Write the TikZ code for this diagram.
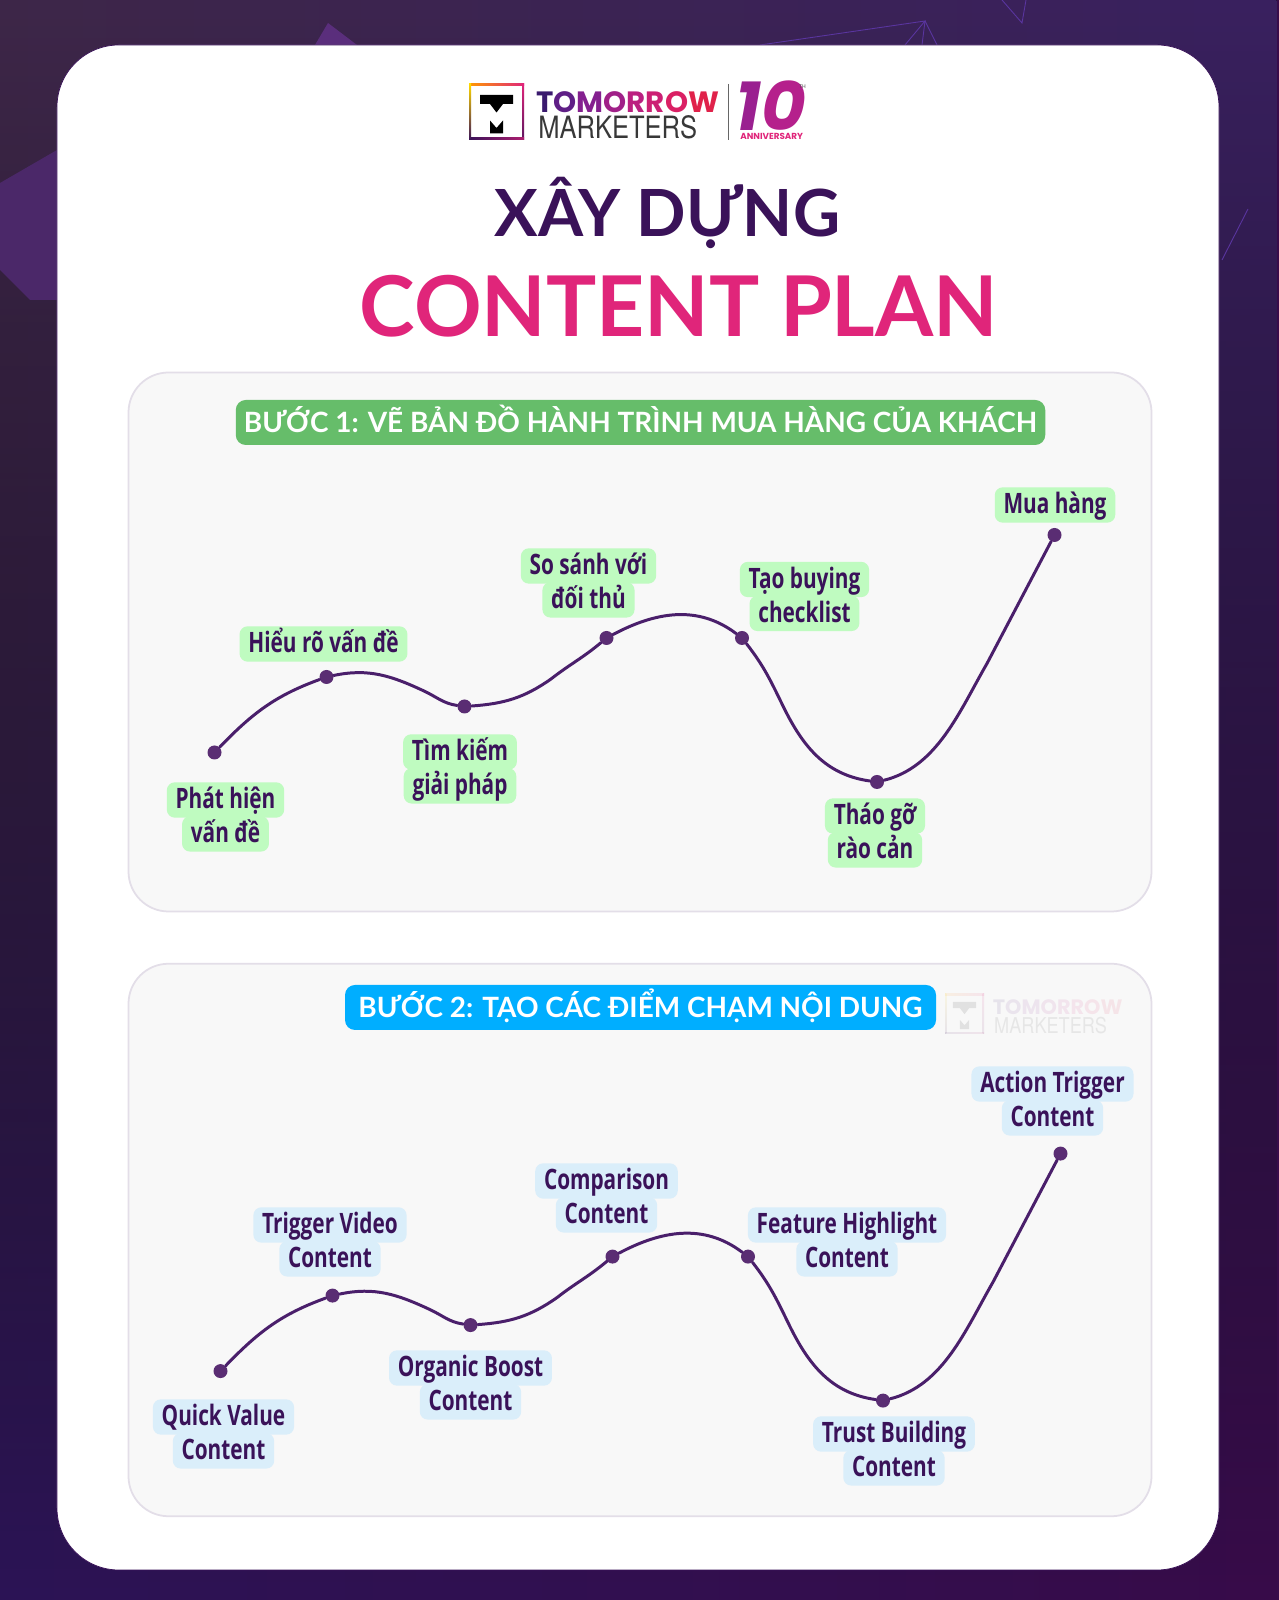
\documentclass[tikz,border=0pt]{standalone}
\usepackage{fontspec}
\setmainfont{Lato}
\newfontfamily\tagfont[FakeStretch=0.74]{Open Sans}
\newfontfamily\logofont{Poppins}
\newfontfamily\logothin[FakeStretch=0.83]{TeX Gyre Heros}
\usepackage{xcolor}
\usetikzlibrary{fadings,positioning}
\definecolor{tmInk}{HTML}{3A1259}
\definecolor{tmPink}{HTML}{E0257A}
\definecolor{tmCurve}{HTML}{4A1F6B}
\definecolor{tmDot}{HTML}{5A2D73}
\definecolor{tmGreen}{HTML}{66BD6A}
\definecolor{tmBlue}{HTML}{00AEFF}
\definecolor{tmTagGreen}{HTML}{BFFBC0}
\definecolor{tmTagBlue}{HTML}{DAEEFA}
\definecolor{tmPanel}{HTML}{F8F8F8}
\definecolor{tmPanelLine}{HTML}{E3DEE8}
\definecolor{tmBgTL}{HTML}{3E2749}
\definecolor{tmBgTR}{HTML}{3A2160}
\definecolor{tmBgBL}{HTML}{2C1457}
\definecolor{tmBgBR}{HTML}{380C4A}
\definecolor{tmBgShape}{HTML}{4B2869}
\definecolor{tmBgPeak}{HTML}{5A2E7C}
\definecolor{tmBgLine}{HTML}{5A35A0}
\tikzset{
  tm panel/.style={draw=tmPanelLine, fill=tmPanel, line width=1pt,
    rounded corners=0.8cm, minimum width=20.46cm},
  tm pill/.style={rounded corners=0.2cm, minimum height=0.9cm, inner sep=0pt,
    text height=14pt, text depth=2.6pt, text=white,
    font=\fontsize{15.9}{17}\selectfont\bfseries},
  tm tag/.style={rounded corners=4.5pt, inner xsep=5pt, inner ysep=0pt,
    text height=15pt, text depth=5.1pt, text=tmInk,
    font=\tagfont\fontsize{16}{18}\selectfont\bfseries},
  tm tag green/.style={tm tag, fill=tmTagGreen},
  tm tag blue/.style={tm tag, fill=tmTagBlue},
  tm dot/.style={circle, fill=tmDot, minimum size=0.28cm, inner sep=0pt},
  tm curve/.style={draw=tmCurve, line width=1.7pt, line cap=round},
  tm bg line/.style={draw=tmBgLine, line width=0.5pt},
  tm logo/.pic={
    \shade[left color=orange!80!yellow, right color=tmPink] (0,0) rectangle (1.1,-0.04);
    \shade[top color=tmPink, bottom color=tmInk!80!tmPink] (1.06,0) rectangle (1.1,-1.12);
    \shade[left color=tmInk, right color=tmInk!30!tmPink] (0,-1.08) rectangle (1.1,-1.12);
    \shade[top color=yellow!70!orange, bottom color=tmInk] (0,0) rectangle (0.04,-1.12);
    \fill[black] (0.22,-0.22) -- (0.88,-0.22) -- (0.88,-0.40) -- (0.68,-0.40) -- (0.55,-0.57)
      -- (0.42,-0.40) -- (0.22,-0.40) -- cycle;
    \fill[black] (0.42,-0.73) -- (0.55,-0.88) -- (0.68,-0.73) -- (0.68,-0.99) -- (0.42,-0.99) -- cycle;
    \node[anchor=base west, inner sep=0pt, transform shape,
      font=\logofont\fontsize{16.7}{18}\selectfont\bfseries] (-top) at (1.34,-0.58)
      {\textcolor[HTML]{3A1A6E}{T}\textcolor[HTML]{5F1F86}{O}\textcolor[HTML]{84208F}{M}\textcolor[HTML]{A02088}{O}\textcolor[HTML]{BB2080}{R}\textcolor[HTML]{CC2074}{R}\textcolor[HTML]{DA2064}{O}\textcolor[HTML]{E0224A}{W}};
    \node[anchor=base west, inner sep=0pt, transform shape, text=black!78,
      font=\logothin\fontsize{17.5}{18}\selectfont] (-low) at (1.38,-1.10) {MARKETERS};
  }
}
\begin{document}
\begin{tikzpicture}
\useasboundingbox (0,0) rectangle (25.58,32);
% backdrop
\shade[left color=tmBgBL, right color=tmBgBR] (0,0) rectangle (25.58,32);
\fill[left color=tmBgTL, right color=tmBgTR, path fading=south] (0,0) rectangle (25.58,32);
\fill[tmBgShape] (0,28.34) -- (1.14,29) -- (1.14,26) -- (0.6,26) -- (0,26.6) -- cycle;
\fill[tmBgPeak] (6.56,31.54) -- (6.3,31.1) -- (7.14,31.1) -- cycle;
\draw[tm bg line] (15.2,31.1) -- (18.5,31.58) -- (18.1,31.1);
\draw[tm bg line] (18.5,31.58) -- (18.44,31.1);
\draw[tm bg line] (18.5,31.58) -- (18.74,31.1);
\draw[tm bg line] (20.04,32) -- (20.44,31.54) -- (20.52,32);
\draw[tm bg line] (24.96,27.82) -- (24.44,26.8);
% card
\node[draw=tmInk, fill=white, line width=0.4pt, rounded corners=1.24cm,
  minimum width=23.24cm, minimum height=30.5cm] (card) at (12.76,15.85) {};
% logo
\pic (logoA) at (9.38,30.32) {tm logo};
\draw[black!60, line width=0.5pt] (14.56,30.32) -- (14.56,29.2);
\node[anchor=base west, inner sep=0pt, font=\logofont\fontsize{39}{39}\selectfont\bfseries\itshape]
  (ten) at (14.70,29.39) {\textcolor[HTML]{9A2090}{1}\textcolor[HTML]{B5208C}{0}};
\node[anchor=base west, inner sep=0pt, text=tmPink, font=\logofont\fontsize{5}{6}\selectfont\bfseries]
  (anniv) at (14.80,29.20) {ANNIVERSARY};
\node[inner sep=0pt, text=black!70, font=\logofont\fontsize{3}{3}\selectfont] (th) at (16.05,30.26) {TH};
% title
\node[anchor=base, inner sep=0pt, text=tmInk, font=\fontsize{37}{40}\selectfont\bfseries]
  (titleA) at (13.35,27.26) {XÂY DỰNG};
\node[anchor=base, inner sep=0pt, text=tmPink, font=\fontsize{47.7}{52}\selectfont\bfseries]
  (titleB) at (13.58,25.26) {CONTENT PLAN};
% panels
\node[tm panel, minimum height=10.78cm] (panelA) at (12.80,19.16) {};
\node[tm panel, minimum height=11.05cm] (panelB) at (12.80,7.20) {};
\node[tm pill, fill=tmGreen, minimum width=16.19cm] (pillA) at (12.81,23.55)
  {BƯỚC 1: VẼ BẢN ĐỒ HÀNH TRÌNH MUA HÀNG CỦA KHÁCH};
\node[tm pill, fill=tmBlue, minimum width=11.82cm] (pillB) at (12.81,11.85)
  {BƯỚC 2: TẠO CÁC ĐIỂM CHẠM NỘI DUNG};
\pic[opacity=0.09, scale=0.71] (logoB) at (18.90,12.12) {tm logo};
% the same curve twice
\foreach \pnl/\dx/\dy in {A/0/0,B/0.12/-12.372} {
  \begin{scope}[shift={(\dx,\dy)}]
  \node[tm dot] (\pnl1) at (4.29,16.95) {};
  \node[tm dot] (\pnl2) at (6.53,18.46) {};
  \node[tm dot] (\pnl3) at (9.29,17.87) {};
  \node[tm dot] (\pnl4) at (12.13,19.24) {};
  \node[tm dot] (\pnl5) at (14.84,19.24) {};
  \node[tm dot] (\pnl6) at (17.54,16.36) {};
  \node[tm dot] (\pnl7) at (21.09,21.30) {};
  \coordinate (\pnl k3) at (8.48,18.18);
  \coordinate (\pnl k4) at (11.02,18.42);
  \coordinate (\pnl k5) at (15.66,17.88);
  \coordinate (\pnl k7) at (19.74,18.73);
  \draw[tm curve] (\pnl1) to[out=46,in=200] (\pnl2);
  \draw[tm curve] (\pnl2) to[out=12,in=155] (\pnl k3) to[out=-25,in=172] (\pnl3);
  \draw[tm curve] (\pnl3) to[out=4,in=215] (\pnl k4) to[out=38,in=220] (\pnl4);
  \draw[tm curve] (\pnl4) to[out=28,in=143] (\pnl5);
  \draw[tm curve] (\pnl5) to[out=-52,in=116] (\pnl k5) to[out=-64,in=172] (\pnl6);
  \draw[tm curve] (\pnl6) to[out=14,in=240,looseness=0.9] (\pnl k7) -- (\pnl7);
  \end{scope}
}
% step 1 tags
\node[tm tag green] (tagA1) at (4.51,16.00) {Phát hiện};
\node[tm tag green, below=-1.2pt of tagA1] (tagA1b) {vấn đề};
\node[tm tag green] (tagA2) at (6.47,19.12) {Hiểu rõ vấn đề};
\node[tm tag green] (tagA3) at (9.20,16.96) {Tìm kiếm};
\node[tm tag green, below=-1.2pt of tagA3] (tagA3b) {giải pháp};
\node[tm tag green] (tagA4) at (11.77,20.68) {So sánh với};
\node[tm tag green, below=-1.2pt of tagA4] (tagA4b) {đối thủ};
\node[tm tag green] (tagA5) at (16.09,20.41) {Tạo buying};
\node[tm tag green, below=-1.2pt of tagA5] (tagA5b) {checklist};
\node[tm tag green] (tagA6) at (17.50,15.68) {Tháo gỡ};
\node[tm tag green, below=-1.2pt of tagA6] (tagA6b) {rào cản};
\node[tm tag green] (tagA7) at (21.10,21.90) {Mua hàng};
% step 2 tags
\node[tm tag blue] (tagB1) at (4.47,3.66) {Quick Value};
\node[tm tag blue, below=-1.2pt of tagB1] (tagB1b) {Content};
\node[tm tag blue] (tagB2) at (6.60,7.50) {Trigger Video};
\node[tm tag blue, below=-1.2pt of tagB2] (tagB2b) {Content};
\node[tm tag blue] (tagB3) at (9.41,4.64) {Organic Boost};
\node[tm tag blue, below=-1.2pt of tagB3] (tagB3b) {Content};
\node[tm tag blue] (tagB4) at (12.13,8.38) {Comparison};
\node[tm tag blue, below=-1.2pt of tagB4] (tagB4b) {Content};
\node[tm tag blue] (tagB5) at (16.94,7.50) {Feature Highlight};
\node[tm tag blue, below=-1.2pt of tagB5] (tagB5b) {Content};
\node[tm tag blue] (tagB6) at (17.88,3.32) {Trust Building};
\node[tm tag blue, below=-1.2pt of tagB6] (tagB6b) {Content};
\node[tm tag blue] (tagB7) at (21.05,10.32) {Action Trigger};
\node[tm tag blue, below=-1.2pt of tagB7] (tagB7b) {Content};
\end{tikzpicture}
\end{document}
